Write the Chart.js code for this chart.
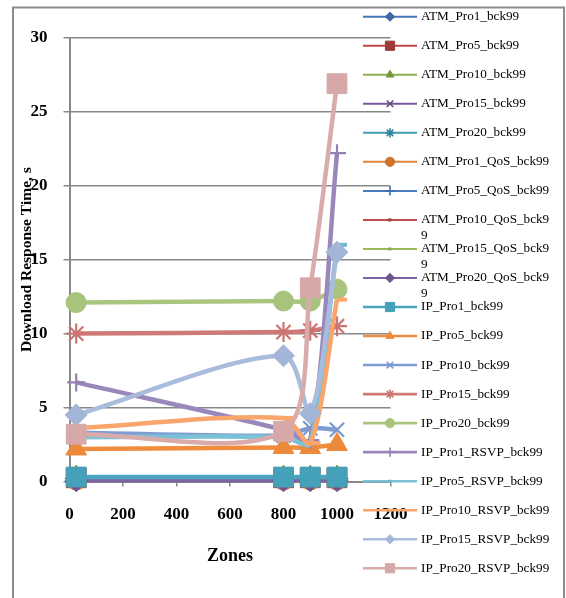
<!DOCTYPE html>
<html>
<head>
<meta charset="utf-8">
<script src="https://cdn.jsdelivr.net/npm/chart.js@4/dist/chart.umd.min.js"></script>
<style>
  html, body { margin: 0; padding: 0; background: #ffffff; }
  canvas { display: block; }
</style>
</head>
<body>
<canvas id="chart" width="566" height="598"></canvas>
<script>
// Zones on the horizontal axis
const zones = [25, 800, 900, 1000];

// Download response time (s) per series, one value per zone
const atmPro1      = [0.20, 0.20, 0.20, 0.20];
const atmPro5      = [0.25, 0.25, 0.25, 0.25];
const atmPro10     = [0.30, 0.30, 0.30, 0.30];
const atmPro15     = [0.20, 0.20, 0.20, 0.20];
const atmPro20     = [0.25, 0.25, 0.25, 0.25];
const atmPro1Qos   = [0.10, 0.10, 0.10, 0.10];
const atmPro5Qos   = [0.15, 0.15, 0.15, 0.15];
const atmPro10Qos  = [0.20, 0.20, 0.20, 0.20];
const atmPro15Qos  = [0.20, 0.20, 0.20, 0.20];
const atmPro20Qos  = [0.05, 0.05, 0.05, 0.05];
const ipPro1       = [0.3, 0.3, 0.3, 0.3];
const ipPro5       = [2.2, 2.3, 2.3, 2.5];
const ipPro10      = [3.3, 3.1, 3.6, 3.5];
const ipPro15      = [10.0, 10.1, 10.2, 10.5];
const ipPro20      = [12.1, 12.2, 12.2, 13.0];
const ipPro1Rsvp   = [6.7, 3.5, 2.8, 22.2];
const ipPro5Rsvp   = [3.0, 3.0, 2.6, 16.0];
const ipPro10Rsvp  = [3.6, 4.3, 2.6, 12.3];
const ipPro15Rsvp  = [4.5, 8.5, 4.6, 15.5];
const ipPro20Rsvp  = [3.2, 3.4, 13.1, 26.9];

const seriesNames = [
  'ATM_Pro1_bck99', 'ATM_Pro5_bck99', 'ATM_Pro10_bck99', 'ATM_Pro15_bck99', 'ATM_Pro20_bck99',
  'ATM_Pro1_QoS_bck99', 'ATM_Pro5_QoS_bck99', 'ATM_Pro10_QoS_bck99', 'ATM_Pro15_QoS_bck99', 'ATM_Pro20_QoS_bck99',
  'IP_Pro1_bck99', 'IP_Pro5_bck99', 'IP_Pro10_bck99', 'IP_Pro15_bck99', 'IP_Pro20_bck99',
  'IP_Pro1_RSVP_bck99', 'IP_Pro5_RSVP_bck99', 'IP_Pro10_RSVP_bck99', 'IP_Pro15_RSVP_bck99', 'IP_Pro20_RSVP_bck99'
];
const seriesValues = [
  atmPro1, atmPro5, atmPro10, atmPro15, atmPro20,
  atmPro1Qos, atmPro5Qos, atmPro10Qos, atmPro15Qos, atmPro20Qos,
  ipPro1, ipPro5, ipPro10, ipPro15, ipPro20,
  ipPro1Rsvp, ipPro5Rsvp, ipPro10Rsvp, ipPro15Rsvp, ipPro20Rsvp
];

// Axis ranges
const xMin = 0, xMax = 1200, xStep = 200;
const yMin = 0, yMax = 30, yStep = 5;

// Line colour, marker colour and marker shape of each series
const seriesStyles = [
  { line: '#4674B4', mark: '#3E68A5', shape: 'rectRot',  r: 11 },
  { line: '#BB4845', mark: '#9E3A37', shape: 'rect',     r: 14 },
  { line: '#8FB04F', mark: '#78963F', shape: 'triangle', r: 12 },
  { line: '#775A9C', mark: '#5F4A80', shape: 'crossRot', r: 10 },
  { line: '#3F9DB6', mark: '#31849C', shape: 'star',     r: 10 },
  { line: '#E3843A', mark: '#D0742C', shape: 'circle',   r: 10 },
  { line: '#4A7EBB', mark: '#3C6EAE', shape: 'cross',    r: 9 },
  { line: '#C0504D', mark: '#A8403D', shape: 'dash',     r: 8 },
  { line: '#9BBB59', mark: '#8AAE4C', shape: 'dash',     r: 8 },
  { line: '#8064A2', mark: '#6E5592', shape: 'rectRot',  r: 11 },
  { line: '#4AA6BF', mark: '#45A0B9', shape: 'rect',     r: 14 },
  { line: '#F08C3E', mark: '#EC8A3C', shape: 'triangle', r: 12 },
  { line: '#7D9DD1', mark: '#7898CD', shape: 'crossRot', r: 10 },
  { line: '#D07A78', mark: '#CD7472', shape: 'star',     r: 10 },
  { line: '#AAC67E', mark: '#A8C47C', shape: 'circle',   r: 10 },
  { line: '#9A87BB', mark: '#9480B5', shape: 'cross',    r: 9 },
  { line: '#7CC2D6', mark: '#6FB8CD', shape: 'dash',     r: 10 },
  { line: '#F9A56C', mark: '#F9A56C', shape: 'dash',     r: 10 },
  { line: '#A9BCDC', mark: '#A3B6D8', shape: 'rectRot',  r: 11 },
  { line: '#D9ABAB', mark: '#D7A8A8', shape: 'rect',     r: 14 }
];

const datasets = seriesNames.map((name, i) => {
  const st = seriesStyles[i];
  const thinMark = st.shape === 'crossRot' || st.shape === 'star' || st.shape === 'cross';
  return {
    label: name,
    data: seriesValues[i].map((v, k) => ({ x: zones[k], y: v })),
    borderColor: st.line,
    backgroundColor: st.mark,
    borderWidth: i < 10 ? 3.5 : 4.5,
    pointStyle: st.shape,
    pointRadius: st.r,
    pointBackgroundColor: st.mark,
    pointBorderColor: st.mark,
    pointBorderWidth: st.shape === 'dash' ? 4 : (thinMark ? 2.2 : 1),
    tension: 0.3,
    clip: false,
    order: seriesNames.length - i
  };
});

// Outer frame behind everything and the legend drawn over the plot's right side
const frameAndLegend = {
  id: 'frameAndLegend',
  beforeDraw(chart) {
    const ctx = chart.ctx;
    ctx.save();
    ctx.fillStyle = '#ffffff';
    ctx.fillRect(0, 0, chart.width, chart.height);
    ctx.strokeStyle = '#8c8c8c';
    ctx.lineWidth = 2;
    ctx.strokeRect(13, 7.5, 551, 640);
    ctx.restore();
  },
  afterDraw(chart) {
    const ctx = chart.ctx;
    const drawPoint = Chart.helpers && Chart.helpers.drawPoint;
    chart.data.datasets.forEach((ds, i) => {
      const st = seriesStyles[i];
      const y = 16.7 + 29.03 * i;
      ctx.save();
      ctx.strokeStyle = st.line;
      ctx.lineWidth = i < 10 ? 2 : 2.6;
      ctx.beginPath();
      ctx.moveTo(363, y);
      ctx.lineTo(417, y);
      ctx.stroke();
      ctx.fillStyle = st.mark;
      ctx.strokeStyle = st.mark;
      const small = st.shape === 'rect' ? 6.5 : (st.shape === 'dash' ? 3.5 : 4.6);
      ctx.lineWidth = st.shape === 'dash' ? 3 : (st.shape === 'crossRot' || st.shape === 'star' || st.shape === 'cross' ? 1.6 : 1);
      if (drawPoint) {
        drawPoint(ctx, { pointStyle: st.shape, radius: small, rotation: 0, borderWidth: ctx.lineWidth }, st.shape === 'dash' ? 388 : 390, y);
      }
      ctx.restore();

      ctx.save();
      ctx.font = '13.2px "Liberation Serif", "Times New Roman", serif';
      ctx.fillStyle = '#000000';
      ctx.textAlign = 'left';
      ctx.textBaseline = 'middle';
      const maxW = 133;
      const lines = [];
      let cur = '';
      for (const ch of ds.label) {
        if (ctx.measureText(cur + ch).width > maxW && cur) {
          lines.push(cur);
          cur = ch;
        } else {
          cur += ch;
        }
      }
      lines.push(cur);
      lines.forEach((t, k) => ctx.fillText(t, 421, y + k * 15.7));
      ctx.restore();
    });
  }
};

const tickFont = { family: '"Liberation Serif", "Times New Roman", serif', size: 17, weight: 'bold' };
const gridGray = '#888888';

new Chart(document.getElementById('chart'), {
  type: 'line',
  data: { datasets },
  options: {
    responsive: false,
    animation: false,
    devicePixelRatio: 1,
    layout: { padding: { left: 0, top: 37.8, right: 175.5, bottom: 0 } },
    plugins: { legend: { display: false }, tooltip: { enabled: false } },
    scales: {
      x: {
        type: 'linear',
        min: xMin,
        max: xMax,
        ticks: {
          stepSize: xStep,
          color: '#000000',
          font: tickFont,
          padding: 18,
          maxRotation: 0,
          autoSkip: false,
          callback: v => String(v)
        },
        grid: { drawOnChartArea: false, drawTicks: true, tickLength: 5, color: gridGray, lineWidth: 1.5 },
        border: { color: gridGray, width: 2 },
        title: {
          display: true,
          text: 'Zones',
          color: '#000000',
          font: { family: '"Liberation Serif", "Times New Roman", serif', size: 18, weight: 'bold' },
          padding: { top: 0, bottom: 31 }
        },
        afterFit(scale) { scale.height = 116.5; }
      },
      y: {
        min: yMin,
        max: yMax,
        ticks: {
          stepSize: yStep,
          color: '#000000',
          font: tickFont,
          padding: 16,
          callback: v => String(v)
        },
        grid: { color: gridGray, lineWidth: 1.5, tickLength: 6 },
        border: { color: gridGray, width: 2 },
        title: {
          display: true,
          text: 'Download Response Time, s',
          color: '#000000',
          font: { family: '"Liberation Serif", "Times New Roman", serif', size: 15.5, weight: 'bold' },
          padding: { top: 18, bottom: 0 }
        },
        afterFit(scale) { scale.width = 69.5; }
      }
    }
  },
  plugins: [frameAndLegend]
});
</script>
</body>
</html>
